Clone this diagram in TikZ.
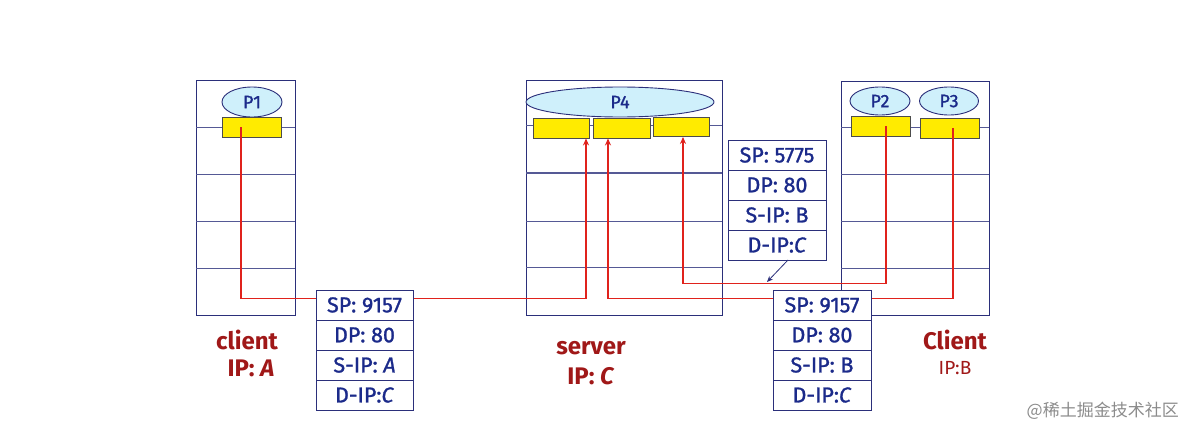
\documentclass[tikz,border=0pt]{standalone}
\usepackage{fontspec}
\setmainfont{Fira Sans}
\newfontfamily\hdrfont{Fira Sans}[FakeBold=1.2]
\newfontfamily\cjk{Noto Sans CJK SC}
\usetikzlibrary{positioning,arrows.meta,shapes.geometric}
\definecolor{navy}{HTML}{2B2F7A}
\definecolor{txtblue}{HTML}{1B2A8A}
\definecolor{lblred}{HTML}{A01818}
\definecolor{flowred}{HTML}{E0221C}
\definecolor{procfill}{HTML}{CFF0FB}
\definecolor{sockfill}{HTML}{FFEB00}
\tikzset{
  host/.style={draw=navy, line width=1pt, fill=white, inner sep=0pt, outer sep=0pt, anchor=north west},
  rowline/.style={draw=navy!80, line width=0.9pt},
  proc/.style={ellipse, draw=navy, line width=0.9pt, fill=procfill, inner sep=0pt, text=txtblue, font=\hdrfont\fontsize{18}{18}\selectfont},
  sock/.style={draw=black!70, line width=0.9pt, fill=sockfill, inner sep=0pt},
  hdr/.style={draw=navy, line width=1pt, fill=white, minimum width=97pt, minimum height=30pt, inner sep=0pt, outer sep=0pt, text=txtblue, font=\hdrfont\fontsize{21.5}{21.5}\selectfont},
  flow/.style={draw=flowred, line width=1.4pt},
  flowin/.style={flow, -{Stealth[length=7pt,width=6pt]}},
  pointer/.style={draw=navy, line width=0.8pt, -{Stealth[length=6pt,width=5pt]}},
  lbl/.style={text=lblred, font=\bfseries\fontsize{24}{24}\selectfont, inner sep=0pt},
}
\begin{document}
\begin{tikzpicture}[x=1pt,y=-1pt]
\useasboundingbox (0,0) rectangle (1194,439);
\fill[white] (0,0) rectangle (1194,439);

% hosts
\node[host, minimum width=99pt, minimum height=235pt] (hostA) at (196,80) {};
\foreach \d in {47,94,141,188}
  \draw[rowline] ([yshift=-\d pt]hostA.north west) -- ([yshift=-\d pt]hostA.north east);
\node[host, minimum width=196pt, minimum height=235pt] (hostC) at (526,80) {};
\foreach \d in {45,141,187}
  \draw[rowline] ([yshift=-\d pt]hostC.north west) -- ([yshift=-\d pt]hostC.north east);
\draw[rowline, line width=2.2pt] ([yshift=-93pt]hostC.north west) -- ([yshift=-93pt]hostC.north east);
\node[host, minimum width=148pt, minimum height=234pt] (hostB) at (841,81) {};
\foreach \d in {46,93,140,187}
  \draw[rowline] ([yshift=-\d pt]hostB.north west) -- ([yshift=-\d pt]hostB.north east);

% processes
\node[proc, minimum width=60pt, minimum height=30pt] (p1) at (252,102) {P1};
\node[proc, minimum width=188pt, minimum height=30pt] (p4) at (620,102) {P4};
\node[proc, minimum width=60pt, minimum height=28pt] (p2) at (880,101) {P2};
\node[proc, minimum width=59pt, minimum height=28pt] (p3) at (949,101) {P3};

% sockets
\node[sock, minimum width=59pt, minimum height=20pt] (p1y) at (251.5,127) {};
\node[sock, minimum width=56pt, minimum height=20pt] (s1y) at (561,128) {};
\node[sock, minimum width=57pt, minimum height=20pt] (s2y) at (621.5,128) {};
\node[sock, minimum width=56pt, minimum height=19pt] (s3y) at (681,127) {};
\node[sock, minimum width=59pt, minimum height=20pt] (p2y) at (880.5,126) {};
\node[sock, minimum width=59pt, minimum height=20pt] (p3y) at (949.5,128) {};

% flows
\coordinate (inA) at ([xshift=25pt]s1y.south);
\coordinate (inB) at ([xshift=-13.5pt]s2y.south);
\coordinate (inC) at ([xshift=2pt]s3y.south);
\draw[flowin] ([xshift=-10.5pt]p1y.center) |- ([yshift=-160pt]inA) -- (inA);
\draw[flowin] ([xshift=3.5pt]p3y.center) |- ([yshift=-160pt]inB) -- (inB);
\draw[flowin] ([xshift=5.5pt]p2y.center) |- ([yshift=-146.5pt]inC) -- (inC);

% header boxes
\node[hdr] (a1) at (364.5,305) {SP: 9157};
\node[hdr, below=0pt of a1] (a2) {DP: 80};
\node[hdr, below=0pt of a2] (a3) {S-IP: \textit{A}};
\node[hdr, below=0pt of a3] (a4) {D-IP:\textit{C}};

\node[hdr, minimum width=98pt] (u1) at (777,155) {SP: 5775};
\node[hdr, minimum width=98pt, below=0pt of u1] (u2) {DP: 80};
\node[hdr, minimum width=98pt, below=0pt of u2] (u3) {S-IP: B};
\node[hdr, minimum width=98pt, below=0pt of u3] (u4) {D-IP:\textit{C}};

\node[hdr, minimum width=98pt] (b1) at (822,305) {SP: 9157};
\node[hdr, minimum width=98pt, below=0pt of b1] (b2) {DP: 80};
\node[hdr, minimum width=98pt, below=0pt of b2] (b3) {S-IP: B};
\node[hdr, minimum width=98pt, below=0pt of b3] (b4) {D-IP:\textit{C}};

\coordinate (ptip) at (767,282);
\draw[pointer] ([xshift=11pt]u4.south) -- (ptip);

% labels
\node[lbl] (clA) at (247,340) {client};
\node[lbl] (ipA) at (251,368) {IP: \textit{A}};
\node[lbl] (srv) at (591,348) {server};
\node[lbl] (ipC) at (591,376) {IP: \textit{C}};
\node[lbl] (clB) at (955,340) {Client};
\node[lbl, font=\fontsize{19}{19}\selectfont] (ipB) at (955,368) {IP:B};

% watermark
\node[text=black!45, font=\cjk\fontsize{17}{17}\selectfont, anchor=east, inner sep=0pt] (wm) at (1179,411) {@稀土掘金技术社区};
\end{tikzpicture}
\end{document}
